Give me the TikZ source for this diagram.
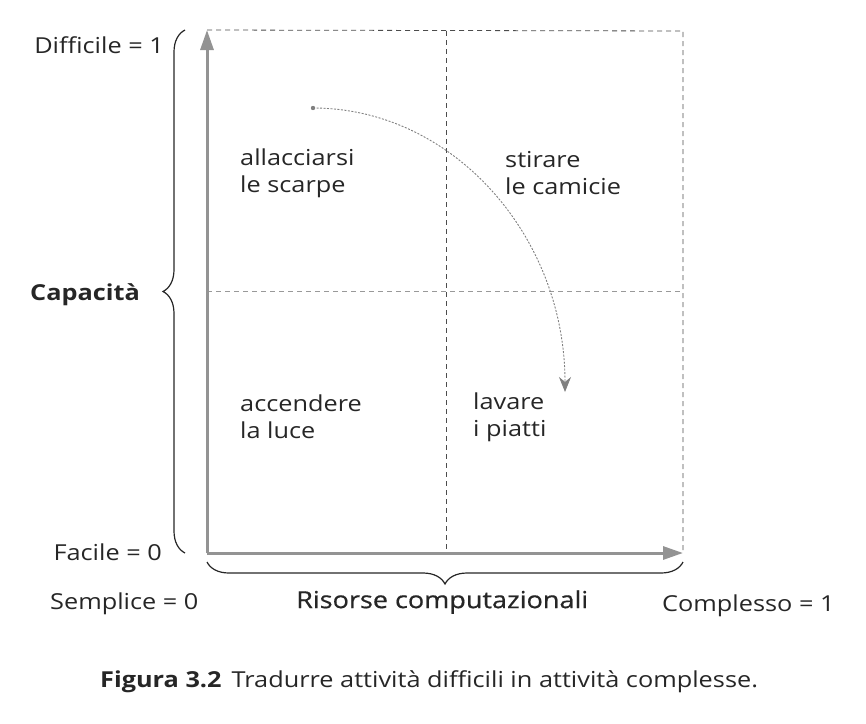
\documentclass[tikz,border=0pt]{standalone}
\usepackage{fontspec}
\setmainfont{Open Sans}[FakeStretch=1.15]
\usetikzlibrary{arrows.meta}
\usetikzlibrary{decorations.pathreplacing}
\tikzset{
  axis/.style={line width=3pt,gray!85,-{Triangle[length=20pt,width=13pt]}},
  grid/.style={dashed,dash pattern=on 5pt off 4pt,black!70,line width=0.8pt},
  label/.style={font=\fontsize{22}{27}\selectfont,text=black!85,inner sep=0pt},
  brace/.style={decorate,decoration={brace,amplitude=22pt},line width=1.2pt,black!85}
}

\begin{document}
\begin{tikzpicture}[x=1pt,y=-1pt]

\useasboundingbox (0,0) rectangle (866,723);

\coordinate (O) at (207,553);
\coordinate (Y) at (207,30);
\coordinate (X) at (683,553);
\coordinate (TR) at (683,31);
\coordinate (MT) at (446,31);
\coordinate (MB) at (446,553);
\coordinate (ML) at (207,291);
\coordinate (MR) at (683,291);

\draw[grid] (Y)--(TR)--(X);
\draw[grid] (MT)--(MB);
\draw[grid,gray!80] (ML)--(MR);

\draw[axis] (O)--(Y);
\draw[axis] (O)--(X);

\draw[brace] (185,553)--(185,30);
\draw[brace] (683,562)--(207,562);

\coordinate (S) at (313,108);
\coordinate (E) at (565,392);
\fill[gray] (S) circle (2.2);
\draw[gray,line width=0.9pt,dash pattern=on 2pt off 1.5pt,-{Stealth[length=15pt,width=12pt]}] (S) .. controls (452,108) and (565,235) .. (E);

\node[label,anchor=east] (diff) at (164,45) {Difficile = 1};
\node[label,anchor=east] (fac) at (162,552) {Facile = 0};
\node[label,anchor=west] (sem) at (50,604) {Semplice = 0};
\node[label,anchor=west,font=\fontsize{23.5}{27}\selectfont\addfontfeature{FakeBold=0.6}] (ris) at (296,602) {Risorse computazionali};
\node[label,anchor=west] (com) at (662,606) {Complesso = 1};
\node[label,anchor=west] (cap) at (30,295) {\textbf{Capacità}};

\node[label,anchor=west,align=left] (scarpe) at (240,173) {allacciarsi\\le scarpe};
\node[label,anchor=west,align=left] (camicie) at (505,173) {stirare\\le camicie};
\node[label,anchor=west,align=left] (luce) at (240,417) {accendere\\la luce};
\node[label,anchor=west,align=left] (piatti) at (473,417) {lavare\\i piatti};

\node[label,anchor=west] (fig) at (100,682) {\textbf{Figura 3.2}\hspace{10pt}Tradurre attività difficili in attività complesse.};

\end{tikzpicture}
\end{document}
